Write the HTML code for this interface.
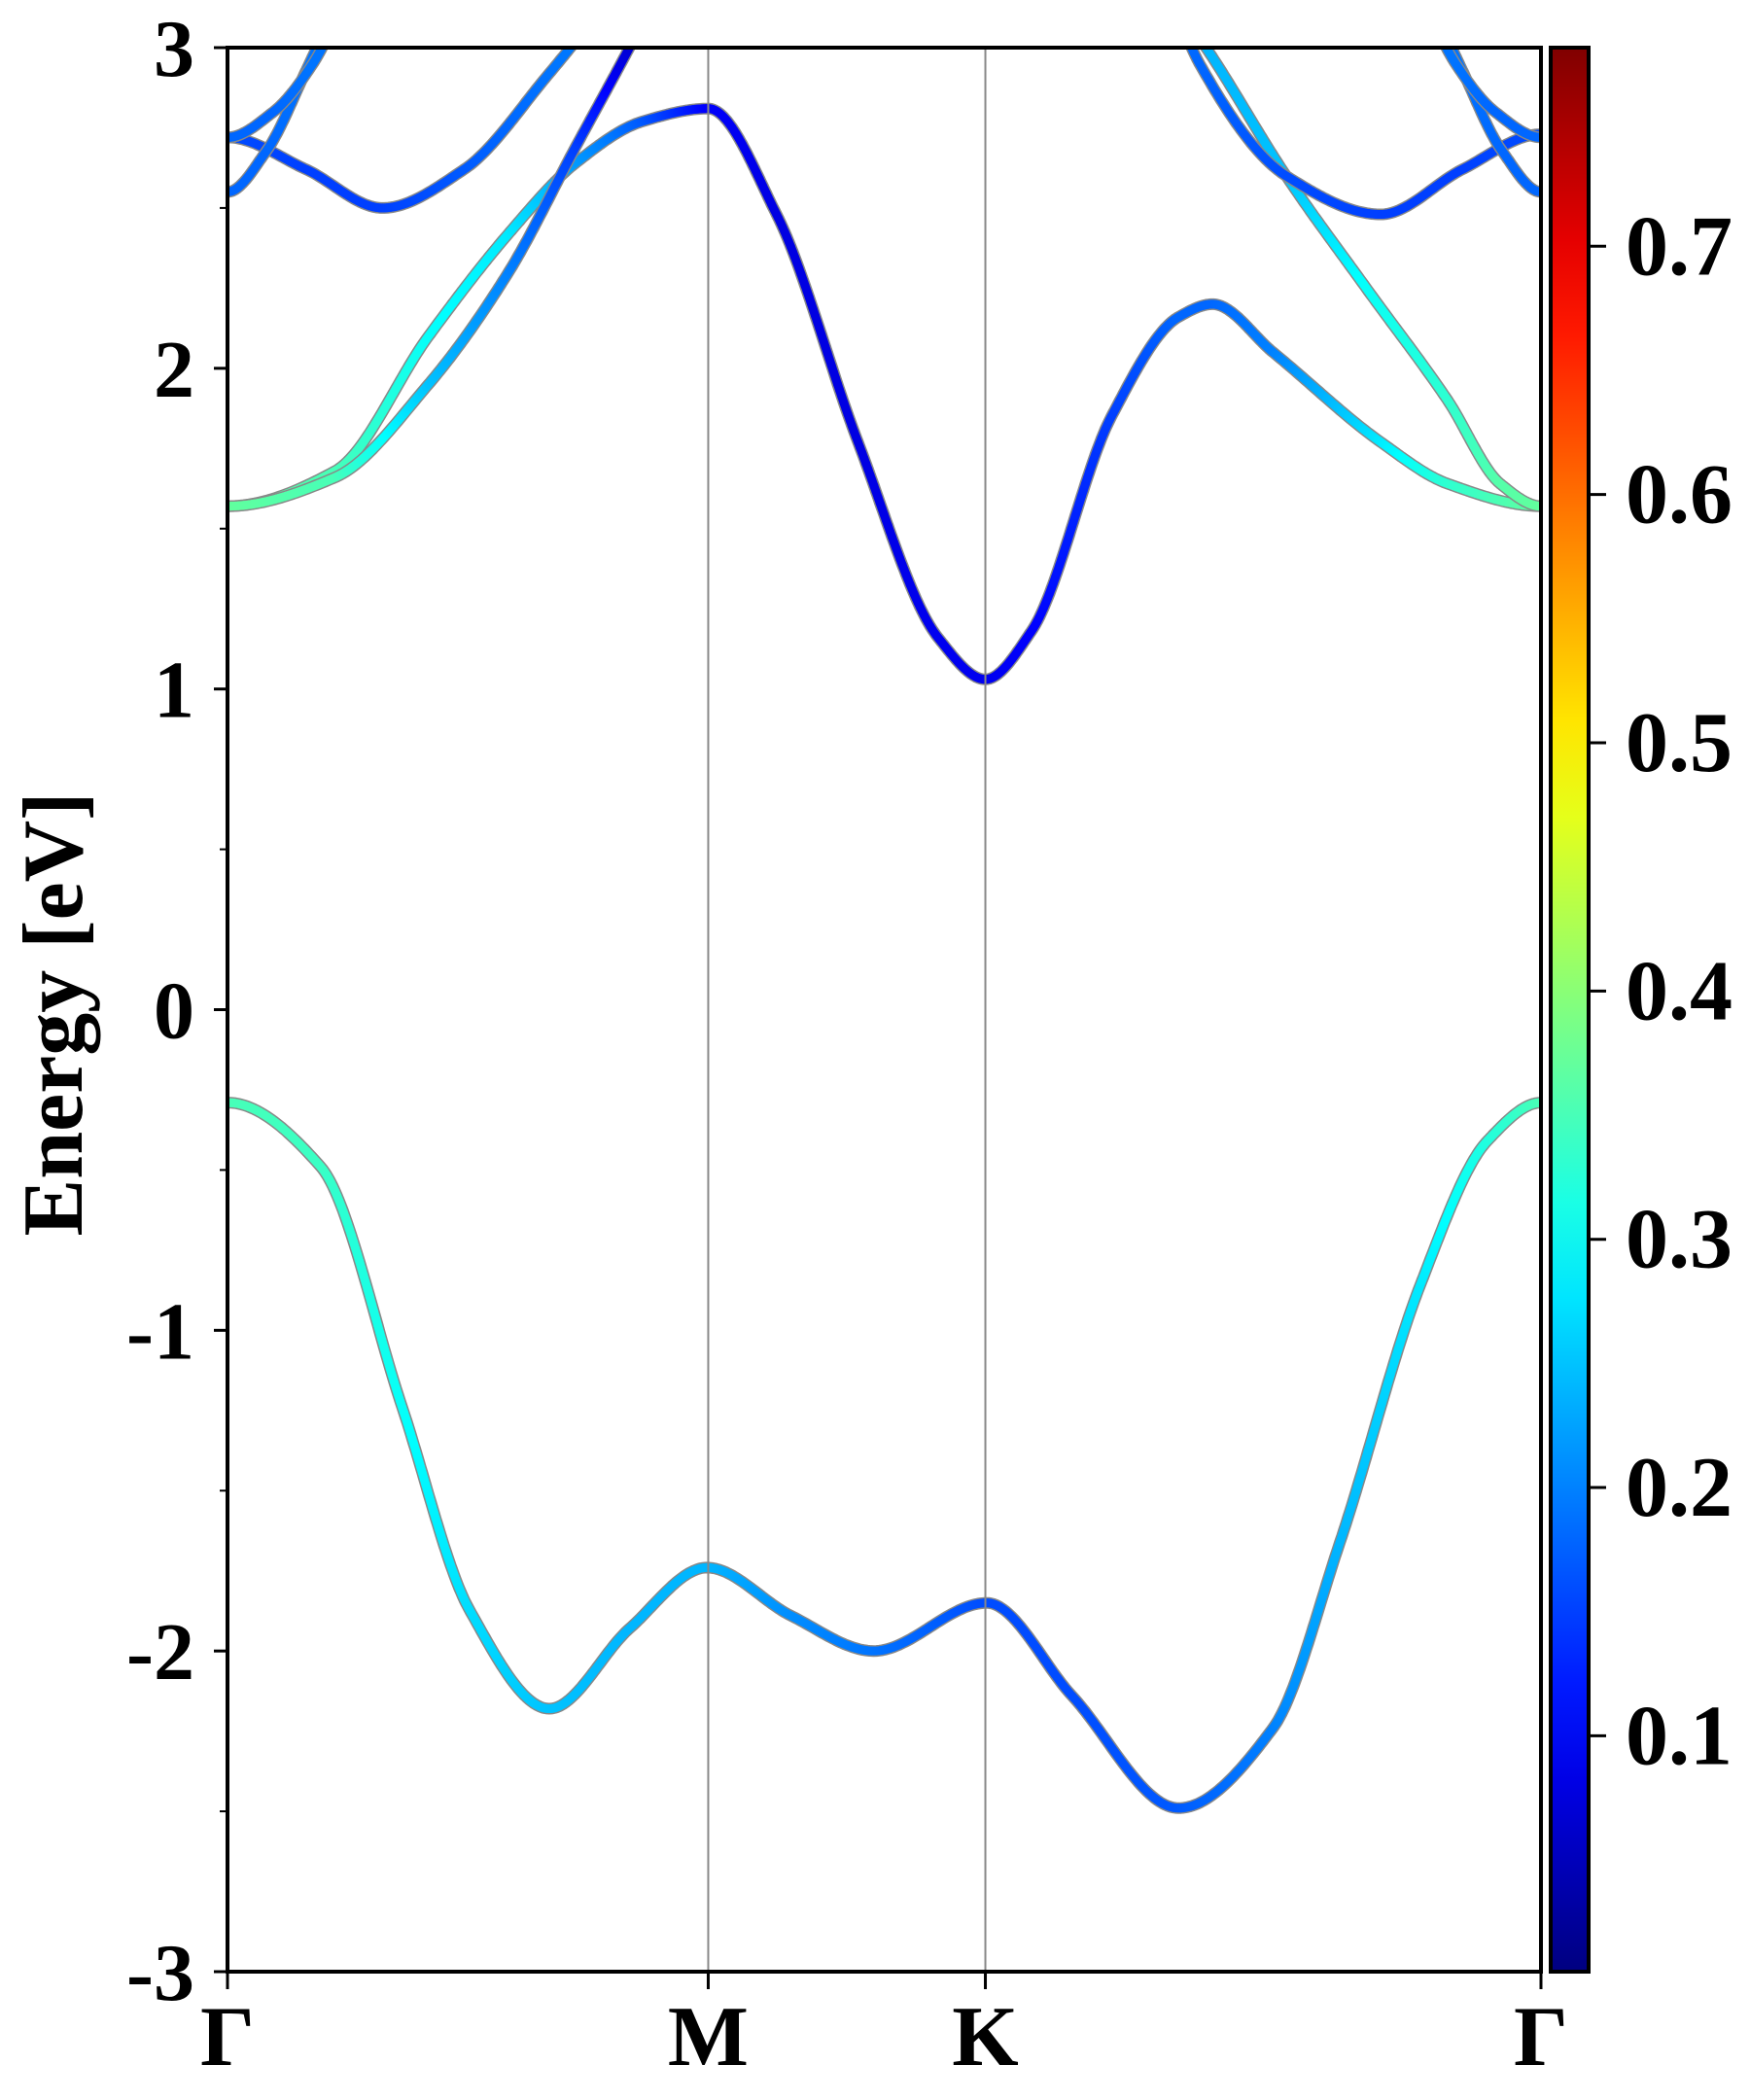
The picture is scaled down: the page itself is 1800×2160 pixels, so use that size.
<!DOCTYPE html>
<html><head><meta charset="utf-8">
<style>
html,body{margin:0;padding:0;background:#fff;}
svg{display:block;}
text{font-family:"Liberation Serif",serif;font-weight:bold;fill:#000;}
</style></head>
<body>
<svg id="chart" width="1800" height="2160" viewBox="0 0 1800 2160" xmlns="http://www.w3.org/2000/svg">
<defs>
<linearGradient id="jet" x1="0" y1="1" x2="0" y2="0"></linearGradient>
<clipPath id="plotclip"><rect x="234" y="49" width="1351" height="1979"/></clipPath>
</defs>
<g id="bands" clip-path="url(#plotclip)"></g>
<g id="axes"></g>
</svg>
<script>
// ---- data ----
const kLabels = ["Γ","M","K","Γ"];
const kPositions = [0, 0.366, 0.577, 1.0];
const yTicks = [-3,-2,-1,0,1,2,3];
const yMinorTicks = [-2.5,-1.5,-0.5,0.5,1.5,2.5];
const cbTicks = [0.1,0.2,0.3,0.4,0.5,0.6,0.7];
const cbMin = 0.005, cbMax = 0.78;
const valK = [0,0.071,0.133,0.184,0.245,0.306,0.365,0.429,0.492,0.578,0.643,0.724,0.796,0.847,0.908,0.959,1.0];
const valE = [-0.29,-0.49,-1.24,-1.87,-2.18,-1.93,-1.74,-1.89,-2.0,-1.85,-2.14,-2.49,-2.24,-1.66,-0.86,-0.41,-0.29];
const valW = [0.35,0.34,0.3,0.27,0.25,0.24,0.24,0.21,0.19,0.16,0.16,0.17,0.2,0.24,0.28,0.32,0.35];
const bandAK = [0,0.082,0.153,0.214,0.265,0.316,0.366,0.418,0.48,0.541,0.577,0.612,0.673,0.724,0.75,0.796,0.878,0.929,1.0];
const bandAE = [1.57,1.68,2.1,2.42,2.64,2.77,2.81,2.48,1.77,1.16,1.03,1.18,1.85,2.16,2.2,2.05,1.77,1.64,1.57];
const bandAW = [0.37,0.35,0.3,0.28,0.22,0.17,0.1,0.08,0.08,0.09,0.09,0.1,0.15,0.18,0.18,0.2,0.28,0.33,0.37];
const bandBK = [0,0.082,0.153,0.214,0.265,0.306,0.33];
const bandBE = [1.57,1.66,1.95,2.3,2.69,3.0,3.19];
const bandBW = [0.37,0.35,0.25,0.2,0.15,0.07,0.05];
const bandCK = [0.71,0.745,0.806,0.867,0.929,0.969,1.0];
const bandCE = [3.2,3.0,2.6,2.25,1.9,1.64,1.57];
const bandCW = [0.22,0.24,0.25,0.3,0.33,0.36,0.37];
const bandDK = [0,0.06,0.118,0.18,0.245,0.3];
const bandDE = [2.72,2.62,2.5,2.62,2.92,3.2];
const bandDW = [0.16,0.15,0.15,0.17,0.19,0.2];
const bandEK = [0.715,0.74,0.806,0.878,0.94,1.0];
const bandEE = [3.2,2.95,2.6,2.48,2.62,2.73];
const bandEW = [0.19,0.18,0.16,0.15,0.15,0.16];
const bandFK = [0,0.03,0.06,0.09];
const bandFE = [2.55,2.68,2.93,3.2];
const bandFW = [0.18,0.18,0.19,0.19];
const bandGK = [0,0.035,0.065,0.09];
const bandGE = [2.72,2.8,2.95,3.15];
const bandGW = [0.18,0.18,0.19,0.19];
const bandHK = [0.91,0.94,0.97,1.0];
const bandHE = [3.2,2.93,2.68,2.55];
const bandHW = [0.19,0.19,0.18,0.18];
const bandIK = [0.91,0.935,0.965,1.0];
const bandIE = [3.15,2.95,2.8,2.72];
const bandIW = [0.19,0.19,0.18,0.18];
const bands = [
 ["valence-band",valK,valE,valW],["conduction-band-1",bandAK,bandAE,bandAW],
 ["conduction-band-2",bandBK,bandBE,bandBW],["conduction-band-3",bandCK,bandCE,bandCW],
 ["upper-band-4",bandDK,bandDE,bandDW],["upper-band-5",bandEK,bandEE,bandEW],
 ["upper-band-6",bandFK,bandFE,bandFW],["upper-band-7",bandGK,bandGE,bandGW],
 ["upper-band-8",bandHK,bandHE,bandHW],["upper-band-9",bandIK,bandIE,bandIW]
];
// ---- axes functions ----
const X0=234,X1=1585,Y0=49,Y1=2028,EMIN=-3,EMAX=3;
const xs=k=>X0+k*(X1-X0);
const ys=e=>Y1-(e-EMIN)/(EMAX-EMIN)*(Y1-Y0);
const CBX=1595,CBW=39;
const cbs=v=>Y1-(v-cbMin)/(cbMax-cbMin)*(Y1-Y0);
function jet(t){const c=x=>Math.round(255*Math.max(0,Math.min(1,x)));
 return `rgb(${c(1.5-Math.abs(4*t-3))},${c(1.5-Math.abs(4*t-2))},${c(1.5-Math.abs(4*t-1))})`;}
const NS="http://www.w3.org/2000/svg";
function mk(tag,attrs,parent){const e=document.createElementNS(NS,tag);for(const a in attrs)e.setAttribute(a,attrs[a]);parent.appendChild(e);return e;}
// monotone cubic (Fritsch-Carlson) tangents
function tangents(K,E){const n=K.length,d=[],m=new Array(n).fill(0);
 for(let i=0;i<n-1;i++)d.push((E[i+1]-E[i])/(K[i+1]-K[i]));
 m[0]=(n>1&&Math.abs(d[0])>3)?d[0]:0; m[n-1]=(Math.abs(d[n-2])>3)?d[n-2]:0;
 if(K[0]===0&&Math.abs(d[0])<6)m[0]=0; if(K[n-1]===1&&Math.abs(d[n-2])<6)m[n-1]=0;
 for(let i=1;i<n-1;i++){if(d[i-1]*d[i]<=0)m[i]=0;else{const h0=K[i]-K[i-1],h1=K[i+1]-K[i];
  const w1=2*h1+h0,w2=h1+2*h0;m[i]=(w1+w2)/(w1/d[i-1]+w2/d[i]);}}
 return m;}
const bandsG=document.getElementById('bands');
bands.forEach(([name,K,E,W])=>{
 const g=mk('g',{},bandsG);
 
 
 const m=tangents(K,E);const pts=[];const n=K.length;
 for(let i=0;i<n-1;i++){const h=K[i+1]-K[i];
  for(let s=0;s<40;s++){const t=s/40,t2=t*t,t3=t2*t;
   const e=(2*t3-3*t2+1)*E[i]+(t3-2*t2+t)*h*m[i]+(-2*t3+3*t2)*E[i+1]+(t3-t2)*h*m[i+1];
   pts.push([K[i]+h*t,e,W[i]+(W[i+1]-W[i])*t]);}}
 pts.push([K[n-1],E[n-1],W[n-1]]);
 const d=pts.map((p,i)=>(i?'L':'M')+xs(p[0]).toFixed(1)+' '+ys(p[1]).toFixed(1)).join('');
 mk('path',{d:d,fill:'none',stroke:'#888','stroke-width':12,'stroke-linejoin':'round'},g);
 for(let i=0;i<pts.length-1;i++){const p=pts[i],q=pts[i+1];
  mk('line',{x1:xs(p[0]),y1:ys(p[1]),x2:xs(q[0]),y2:ys(q[1]),stroke:jet((p[2]-cbMin)/(cbMax-cbMin)),'stroke-width':9,'stroke-linecap':'round'},g);}
});
const ax=document.getElementById('axes');
kPositions.slice(1,3).forEach(k=>{const l=mk('line',{x1:xs(k),x2:xs(k),y1:Y0,y2:Y1,stroke:'#888','stroke-width':2},ax);
 
 });
const frame=mk('rect',{x:X0,y:Y0,width:X1-X0,height:Y1-Y0,fill:'none',stroke:'#000','stroke-width':4},ax);


yTicks.forEach(v=>{mk('line',{x1:X0-14,x2:X0,y1:ys(v),y2:ys(v),stroke:'#000','stroke-width':3},ax);
 const t=mk('text',{x:200,y:ys(v)+29,'text-anchor':'end','font-size':84},ax);t.textContent=v;
 
 });
yMinorTicks.forEach(v=>{mk('line',{x1:X0-8,x2:X0,y1:ys(v),y2:ys(v),stroke:'#000','stroke-width':2},ax);});
kPositions.forEach((k,i)=>{mk('line',{x1:xs(k),x2:xs(k),y1:Y1,y2:Y1+18,stroke:'#000','stroke-width':3},ax);
 const t=mk('text',{x:xs(k),y:2124,'text-anchor':'middle','font-size':88},ax);t.textContent=kLabels[i];
 
 });
const yl=mk('text',{x:0,y:0,'text-anchor':'middle','font-size':88,transform:'translate(84,1043) rotate(-90)'},ax);
yl.textContent='Energy [eV]';


const grad=document.getElementById('jet');
for(let i=0;i<=20;i++){mk('stop',{offset:i/20,'stop-color':jet(i/20)},grad);}
const cb=mk('rect',{x:CBX,y:Y0,width:CBW,height:Y1-Y0,fill:'url(#jet)',stroke:'#000','stroke-width':4},ax);


cbTicks.forEach(v=>{mk('line',{x1:CBX+CBW,x2:CBX+CBW+18,y1:cbs(v),y2:cbs(v),stroke:'#000','stroke-width':3},ax);
 const t=mk('text',{x:1672,y:cbs(v)+29,'font-size':88},ax);t.textContent=v.toFixed(1);
 
 });
</script>
</body></html>
